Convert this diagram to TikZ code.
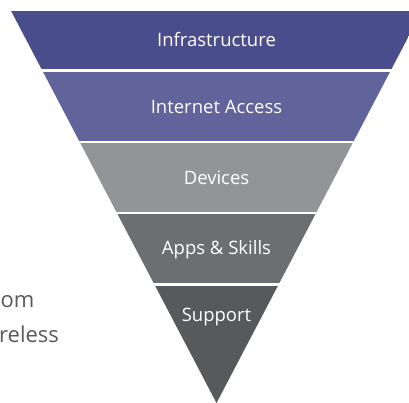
\documentclass[tikz,border=0pt]{standalone}
\usepackage{fontspec}
\setmainfont{Open Sans}
\usetikzlibrary{positioning}

\definecolor{bandA}{RGB}{74,77,140}
\definecolor{bandB}{RGB}{97,99,155}
\definecolor{bandC}{RGB}{147,148,151}
\definecolor{bandD}{RGB}{109,110,114}
\definecolor{bandE}{RGB}{88,89,91}
\definecolor{sidegray}{RGB}{89,89,91}

\begin{document}
\begin{tikzpicture}
	 [scale =1]
	\tikzstyle{layer}=[inner sep=0pt,anchor=base,text=white,font=\fontsize{18.5}{22}\selectfont]
	\tikzstyle{side}=[inner sep=0pt,text=sidegray,font=\fontsize{22}{26}\selectfont]
	\useasboundingbox (0 pt,0 pt) rectangle (409.0 pt,403.0 pt);
	\clip (0 pt,0 pt) rectangle (409.0 pt,403.0 pt);
	\coordinate (apex) at (216.5 pt,0 pt);
	\coordinate (tl) at (11.1 pt,392.0 pt);
	\coordinate (tr) at (421.9 pt,392.0 pt);
	\begin{scope}
	\clip (tl) -- (tr) -- (apex) -- cycle;
	\fill [bandA] (0 pt,333.7 pt) rectangle (430.0 pt,392.0 pt);
	\fill [bandB] (0 pt,262.3 pt) rectangle (430.0 pt,331.3 pt);
	\fill [bandC] (0 pt,191.3 pt) rectangle (430.0 pt,260.3 pt);
	\fill [bandD] (0 pt,119.7 pt) rectangle (430.0 pt,188.7 pt);
	\fill [bandE] (0 pt,0 pt) rectangle (430.0 pt,117.3 pt);
	\end{scope}
	\node [layer] (l1) at (216.5 pt,356.3 pt) {Infrastructure};
	\node [layer] (l2) at (216.5 pt,289.7 pt) {Internet Access};
	\node [layer] (l3) at (216.5 pt,218.0 pt) {Devices};
	\node [layer] (l4) at (216.5 pt,148.0 pt) {Apps \& Skills};
	\node [layer] (l5) at (216.5 pt,81.3 pt) {Support};
	\node [side,anchor=base west] (s1) at (0.5 pt,95.0 pt) {om};
	\node [side,anchor=base west] (s2) at (-1.0 pt,60.0 pt) {reless};
	\end{tikzpicture}
\end{document}
